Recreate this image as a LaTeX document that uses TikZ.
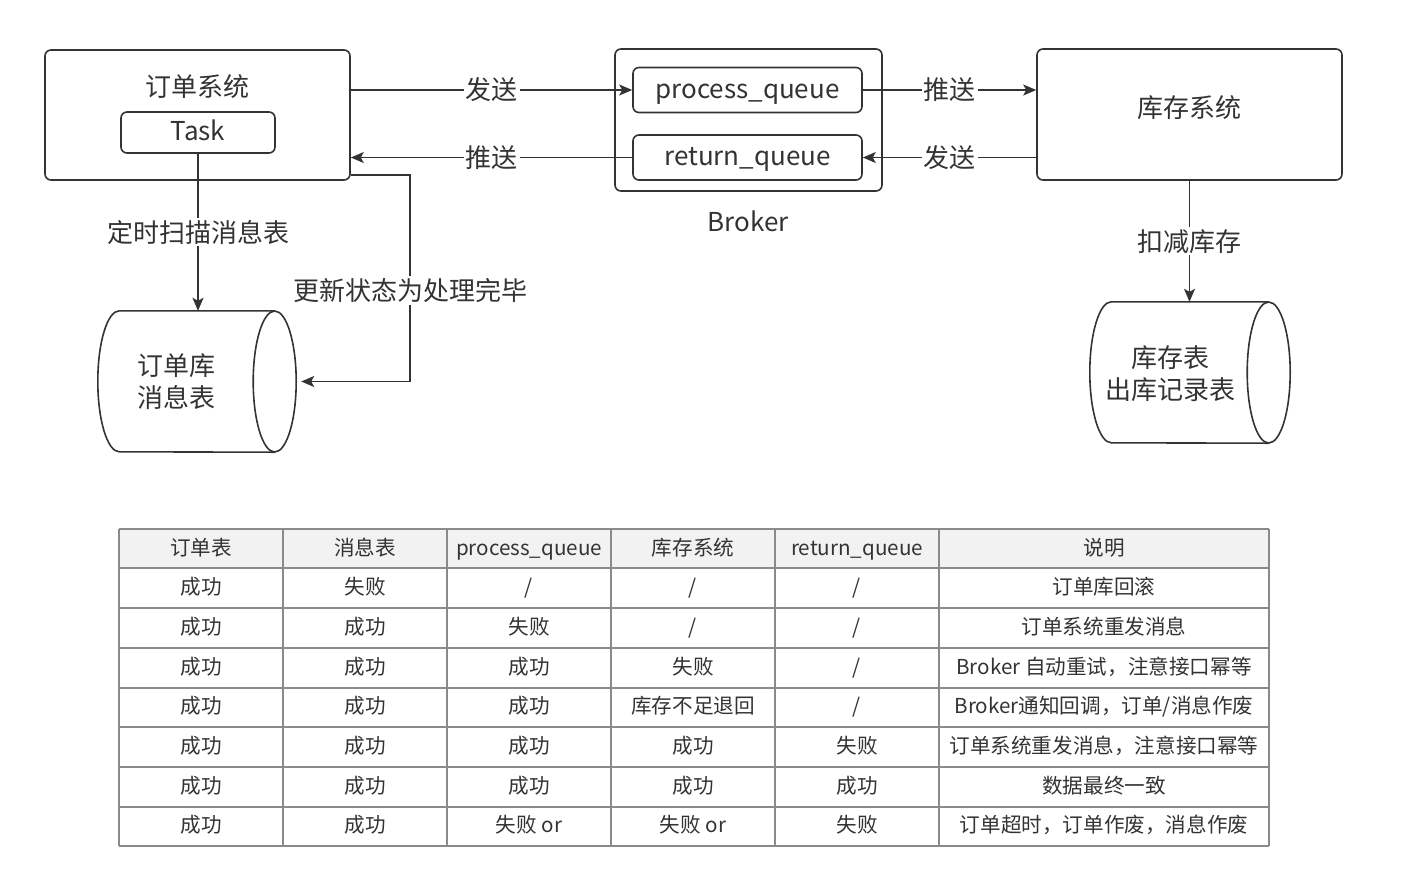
\documentclass[tikz,border=0pt]{standalone}
\usepackage{fontspec}
\setmainfont{Noto Sans CJK SC}
\usetikzlibrary{arrows.meta}

\definecolor{ink}{HTML}{333333}
\definecolor{rulegray}{HTML}{8A8A8A}
\definecolor{headgray}{HTML}{F2F2F2}
\newcommand\bigtxt{\fontsize{26}{32}\selectfont}
\newcommand\tabtxt{\fontsize{20.6}{24}\selectfont}

\begin{document}
\begin{tikzpicture}[x=1pt,y=-1pt,
  every node/.style={text=ink,font=\bigtxt},
  sysbox/.style={draw=ink,line width=1.6pt,rounded corners=6pt,inner sep=0pt,text height=21pt,text depth=5pt},
  qbox/.style={sysbox,minimum width=229pt,minimum height=45pt},
  dbarea/.style={inner sep=0pt,minimum height=141pt},
  dbline/.style={draw=ink,line width=1.6pt},
  lbl/.style={fill=white,inner sep=2pt},
  arr/.style={draw=ink,line width=1.5pt,-{Stealth[length=13pt,width=11pt,inset=3pt]}},
  tbl/.style={draw=rulegray,line width=1.2pt},
  cellt/.style={font=\tabtxt,inner sep=0pt,text height=17pt,text depth=4pt}]
\useasboundingbox (0,0) rectangle (1403,895);

\node[sysbox,minimum width=305pt,minimum height=130pt] (ordsys) at (197.5,115) {};
\node (ordtitle) at (197,87) {订单系统};
\node[sysbox,minimum width=154pt,minimum height=41pt] (task) at (198,132.5) {Task};

\node[sysbox,minimum width=267pt,minimum height=142pt] (broker) at (748.5,120) {};
\node[qbox] (pq) at (747.5,90) {process\_queue};
\node[qbox] (rq) at (747.5,157.5) {return\_queue};
\node (brokername) at (748,221) {Broker};

\node[sysbox,minimum width=305pt,minimum height=131pt] (inv) at (1189.5,114.5) {};
\node (invtitle) at (1189,108) {库存系统};

\node[dbarea,minimum width=198pt] (odb) at (197,381.5) {};
\draw[dbline] ([xshift=-21.5pt]odb.north east) -- ([xshift=21.5pt]odb.north west)
  arc[start angle=270,end angle=90,x radius=21.5,y radius=70.5] -- ([xshift=-21.5pt]odb.south east);
\draw[dbline] ([xshift=-21.5pt]odb.east) ellipse[x radius=21.5,y radius=70.5];
\node[align=center] (odbtxt) at (176,382) {订单库\\消息表};

\node[dbarea,minimum width=200pt] (idb) at (1190,372.5) {};
\draw[dbline] ([xshift=-21.5pt]idb.north east) -- ([xshift=21.5pt]idb.north west)
  arc[start angle=270,end angle=90,x radius=21.5,y radius=70.5] -- ([xshift=-21.5pt]idb.south east);
\draw[dbline] ([xshift=-21.5pt]idb.east) ellipse[x radius=21.5,y radius=70.5];
\node[align=center] (idbtxt) at (1170,374) {库存表\\出库记录表};

\draw[arr] (ordsys.east |- pq.west) -- node[lbl]{发送} (pq.west);
\draw[arr] (rq.west) -- node[lbl]{推送} (ordsys.east |- rq.west);
\draw[arr] (pq.east) -- node[lbl]{推送} (inv.west |- pq.east);
\draw[arr] (inv.west |- rq.east) -- node[lbl]{发送} (rq.east);
\draw[arr] (task.south) -- node[lbl]{定时扫描消息表} (task.south |- odb.north);
\draw[arr] (inv.south) -- node[lbl]{扣减库存} (inv.south |- idb.north);
\coordinate (bend) at (410,0);
\draw[arr] ([yshift=6pt]ordsys.south east) -| (bend |- odb.east) node[lbl,pos=0.78]{更新状态为处理完毕} -- ([xshift=5pt]odb.east);

\fill[headgray] (119,529) rectangle (1269,568);
\foreach \yy in {529,568,608,648,688,727,767,807,846}
  \draw[tbl] (119,\yy) -- (1269,\yy);
\foreach \xx in {119,283,447,611,775,939,1269}
  \draw[tbl] (\xx,529) -- (\xx,846);

\foreach \row [count=\r from 0] in {
  {订单表,消息表,process\_queue,库存系统,return\_queue,说明},
  {成功,失败,/,/,/,订单库回滚},
  {成功,成功,失败,/,/,订单系统重发消息},
  {成功,成功,成功,失败,/,Broker 自动重试，注意接口幂等},
  {成功,成功,成功,库存不足退回,/,Broker通知回调，订单/消息作废},
  {成功,成功,成功,成功,失败,订单系统重发消息，注意接口幂等},
  {成功,成功,成功,成功,成功,数据最终一致},
  {成功,成功,失败 or,失败 or,失败,订单超时，订单作废，消息作废}} {
  \foreach \cell [count=\c] in \row {
    \pgfmathsetmacro\cx{\c<6 ? 37+164*\c : 1104}
    \node[cellt] (cell-\r-\c) at (\cx,{548.5+39.7*\r}) {\cell};
  }
}
\end{tikzpicture}
\end{document}
